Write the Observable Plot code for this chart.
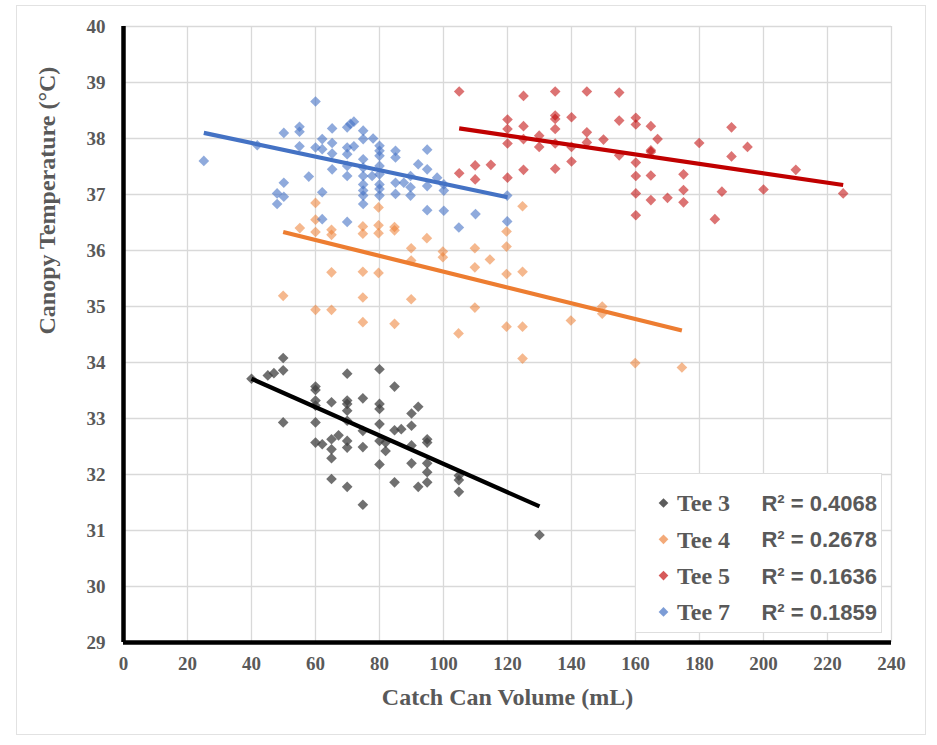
<!DOCTYPE html>
<html>
<head>
<meta charset="utf-8">
<script src="https://cdn.jsdelivr.net/npm/d3@7"></script>
<script src="https://cdn.jsdelivr.net/npm/@observablehq/plot@0.6"></script>
<style>
  html, body { margin: 0; padding: 0; background: #ffffff; }
  #wrap { position: relative; width: 937px; height: 745px; overflow: hidden; }
  #chart { position: absolute; left: 0; top: 0; }
  #frame { position: absolute; left: 16px; top: 5px; width: 908px; height: 728px; border: 1px solid #e2e2e2; pointer-events: none; }
  #legend { position: absolute; left: 635px; top: 473px; width: 247px; height: 160px; background: #ffffff; border: 1px solid #dedede; box-sizing: border-box; }
</style>
</head>
<body>
<div id="wrap">
  <div id="chart"></div>
  <div id="frame"></div>
  <div id="legend"></div>
</div>
<script>
// ---- data ----
const seriesNames = ["Tee 3", "Tee 4", "Tee 5", "Tee 7"];
const r2Labels = ["R² = 0.4068", "R² = 0.2678", "R² = 0.1636", "R² = 0.1859"];
const pointColors = ["#404040", "#ED7D31", "#C00000", "#4472C4"];
const pointOpacity = [0.75, 0.55, 0.55, 0.6];
const lineColors = ["#000000", "#ED7D31", "#C00000", "#4472C4"];
const xTicks = [0, 20, 40, 60, 80, 100, 120, 140, 160, 180, 200, 220, 240];
const yTicks = [29, 30, 31, 32, 33, 34, 35, 36, 37, 38, 39, 40];

const tee3 = [[40,33.71],[45.1,33.77],[47,33.81],[49.9,34.08],[49.9,33.86],[49.9,32.93],
  [60,33.57],[60,33.51],[60,33.32],[60,33.23],[60,32.93],[60,32.57],[62.1,32.54],
  [65,33.29],[65,32.63],[65,32.45],[65,32.29],[65,31.92],
  [69.9,33.80],[69.9,33.32],[69.9,33.26],[69.9,33.14],[69.9,32.96],[69.9,32.60],[69.9,32.48],[69.9,31.78],
  [67.2,32.70],[74.8,33.36],[74.8,32.78],[74.8,32.49],[74.8,31.46],
  [80,33.88],[80,33.26],[80,33.17],[80,32.90],[80,32.60],[80,32.18],[81.9,32.57],[81.9,32.42],
  [84.7,33.57],[84.7,32.79],[86.8,32.81],[84.7,31.86],
  [90,33.09],[92.1,33.21],[90,32.87],[90,32.52],[90,32.20],[92.1,31.78],
  [94.9,32.63],[94.9,32.57],[94.9,32.20],[94.9,32.04],[94.9,31.86],
  [104.8,31.98],[104.8,31.90],[104.8,31.69],[130,30.92]];

const tee4 = [[49.9,35.19],[55.1,36.40],[60,36.85],[60,36.55],[60,36.33],[60,34.94],
  [65,36.37],[65,36.28],[65,35.61],[65,34.94],
  [74.8,36.43],[74.8,36.30],[74.8,35.62],[74.8,35.16],[74.8,34.72],
  [79.7,36.77],[79.7,36.45],[79.7,36.31],[79.7,35.60],
  [84.7,36.42],[84.7,36.36],[84.7,34.69],[89.9,36.04],[89.9,35.13],[89.9,35.82],
  [94.8,36.22],[99.8,35.98],[99.8,35.88],[104.7,34.52],
  [109.8,36.04],[109.8,35.70],[109.8,34.98],[114.5,35.84],
  [119.7,36.34],[119.7,36.07],[119.7,35.58],[119.7,34.64],
  [124.7,36.79],[124.7,35.62],[124.7,34.64],[124.7,34.07],
  [139.8,34.75],[149.6,35.00],[149.6,34.87],[159.9,33.99],[174.5,33.91]];

const tee5 = [[104.9,38.84],[104.9,37.38],[109.9,37.52],[109.9,37.27],[114.8,37.53],
  [120,38.34],[120,38.17],[120,37.91],[120,37.30],
  [125,38.76],[125,38.22],[125,37.99],[125,37.44],[129.9,38.05],[129.9,37.85],
  [134.9,38.84],[134.9,38.41],[134.9,38.35],[134.9,38.17],[134.9,37.91],[134.9,37.46],
  [140,38.38],[140,37.85],[140,37.59],[144.8,38.84],[144.8,38.11],[144.8,37.93],[150,37.98],
  [154.9,38.82],[154.9,38.32],[154.9,37.70],
  [160.1,38.37],[160.1,38.25],[160.1,37.57],[160.1,37.33],[160.1,37.02],[160.1,36.63],
  [164.8,38.22],[166.9,37.99],[164.8,37.79],[164.8,37.76],[164.8,37.34],[164.8,36.90],
  [170,36.94],[175,37.36],[175,37.08],[175,36.86],[179.9,37.92],[184.8,36.56],[187,37.05],
  [190,38.20],[190,37.68],[195,37.85],[200,37.09],[210.1,37.44],[224.9,37.02]];

const tee7 = [[25.1,37.60],[41.8,37.88],[60,38.66],[50.1,38.10],[55,38.21],[55,38.12],[55,37.86],
  [50.1,37.21],[48,37.02],[50.1,36.96],[48,36.83],[57.9,37.32],
  [60,37.84],[62.1,37.99],[62.1,37.81],[62.1,37.04],[62.1,36.56],
  [65.2,38.18],[65.2,37.92],[65.2,37.73],[65.2,37.45],
  [69.9,38.20],[70.9,38.26],[72,38.30],[69.9,37.84],[72,37.86],[69.9,37.72],[69.9,37.51],[69.9,37.33],[69.9,36.51],
  [74.9,38.14],[74.9,37.99],[74.9,37.63],[74.9,37.48],[74.9,37.33],[74.9,37.18],[74.9,37.07],[74.9,36.98],[74.9,36.83],
  [78,38.0],[80,37.87],[80,37.78],[80,37.69],[80,37.51],[80,37.36],[80,37.18],[80,37.10],[80,36.98],[77.7,37.33],
  [85,37.78],[85,37.66],[85,37.21],[85,37.01],[87.6,37.21],[89.7,37.13],[89.7,36.98],[89.7,37.33],
  [92.1,37.54],[94.9,37.80],[94.9,37.45],[94.9,37.15],[94.9,36.72],[98,37.30],
  [100.1,37.18],[100.1,37.07],[100.1,36.71],[110,36.65],[119.9,36.98],[119.9,36.52],[104.8,36.41]];

// trendline end points
const trend3 = [[40,33.71],[130,31.43]];
const trend4 = [[49.9,36.33],[174.5,34.57]];
const trend5 = [[104.9,38.18],[224.9,37.17]];
const trend7 = [[25.1,38.10],[120,36.95]];

const pointSets = [tee3, tee4, tee5, tee7];
const trendSets = [trend3, trend4, trend5, trend7];

const serif = "'Liberation Serif', 'Times New Roman', serif";
const textColor = "#595959";

const marks = [
  Plot.gridX(xTicks.slice(1), {stroke: "#d9d9d9", strokeOpacity: 1, strokeWidth: 1.3}),
  Plot.gridY(yTicks.slice(1), {stroke: "#d9d9d9", strokeOpacity: 1, strokeWidth: 1.3}),
  Plot.axisX(xTicks, {tickSize: 0, tickPadding: 14, fontSize: 19, fontWeight: "bold", fontFamily: serif, tickFormat: d => String(d), label: null}),
  Plot.axisY(yTicks, {tickSize: 0, tickPadding: 18, fontSize: 19, fontWeight: "bold", fontFamily: serif, tickFormat: d => String(d), label: null})
];

pointSets.forEach((set, i) => {
  marks.push(Plot.dot(set, {
    x: d => d[0], y: d => d[1], symbol: "diamond2", r: 4.8,
    fill: pointColors[i], fillOpacity: pointOpacity[i], stroke: "none"
  }));
});
trendSets.forEach((set, i) => {
  marks.push(Plot.line(set, {
    x: d => d[0], y: d => d[1], stroke: lineColors[i], strokeWidth: 4.2, strokeLinecap: "butt"
  }));
});
marks.push(
  Plot.ruleX([0], {stroke: "#000", strokeWidth: 4.5}),
  Plot.ruleY([29], {stroke: "#000", strokeWidth: 4.5}),
  Plot.text(["Catch Can Volume (mL)"], {frameAnchor: "bottom", dy: 62, fontSize: 24, fontWeight: "bold", fontFamily: serif, fill: textColor}),
  Plot.text(["Canopy Temperature (°C)"], {frameAnchor: "left", dx: -76, rotate: -90, fontSize: 24, fontWeight: "bold", fontFamily: serif, fill: textColor})
);

const chart = Plot.plot({
  width: 937,
  height: 745,
  marginLeft: 123,
  marginRight: 46,
  marginTop: 26,
  marginBottom: 103,
  x: {domain: [0, 240]},
  y: {domain: [29, 40]},
  style: {fontFamily: serif, color: textColor, background: "#ffffff", overflow: "visible"},
  marks
});
document.getElementById("chart").appendChild(chart);

// ---- legend ----
const lg = d3.select("#legend").append("svg").attr("width", 247).attr("height", 160);
seriesNames.forEach((name, i) => {
  const cy = 29 + i * 36.3;
  const g = lg.append("g").attr("transform", `translate(0,${cy})`);
  g.append("path").attr("d", d3.symbol(d3.symbolDiamond2, 60)())
    .attr("transform", "translate(27.5,0)")
    .attr("fill", pointColors[i]).attr("fill-opacity", pointOpacity[i] + 0.1);
  g.append("text").text(name).attr("x", 41).attr("dy", "0.35em")
    .attr("font-family", serif).attr("font-weight", "bold").attr("font-size", 24).attr("fill", textColor);
  g.append("text").text(r2Labels[i]).attr("x", 241).attr("dy", "0.36em").attr("text-anchor", "end")
    .attr("font-family", "'Liberation Sans', Arial, sans-serif").attr("font-weight", "bold").attr("font-size", 22).attr("fill", textColor);
});
</script>
</body>
</html>
